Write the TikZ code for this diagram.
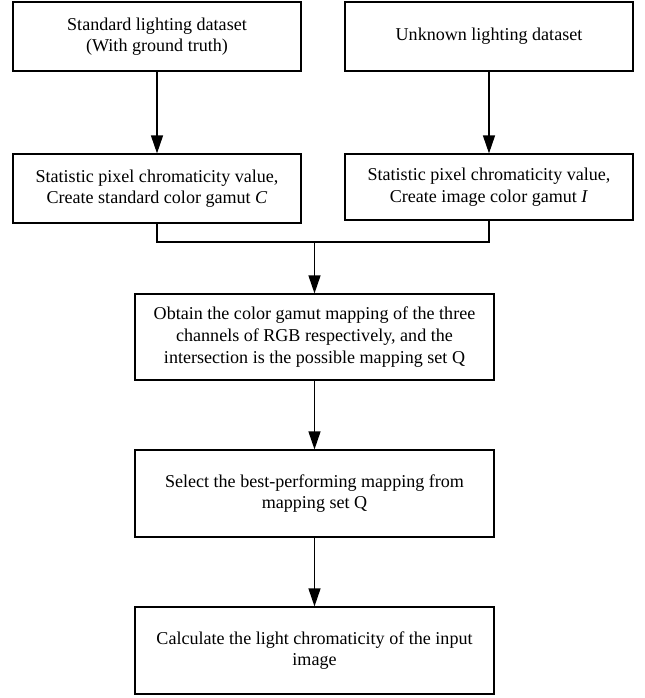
\documentclass[tikz,border=0pt]{standalone}
\usepackage{fontspec}
\setmainfont{Liberation Serif}
\usepackage{tikz}
\usetikzlibrary{arrows.meta}

\begin{document}
\begin{tikzpicture}[font=\fontsize{12.85}{15.4}\selectfont]
            \useasboundingbox (0,0) rectangle (16.125,-17.45);

            \begin{scope}[every node/.style={draw, line width=0.85pt, align=center, inner sep=0pt, minimum width=7.2cm, minimum height=1.725cm},
                          wide/.style={minimum width=8.975cm, minimum height=2.175cm}]
                \node (0) at (3.925,-0.9125) {Standard lighting dataset\\(With ground truth)};
                \node (1) at (12.225,-0.9125) {Unknown lighting dataset};
                \node (2) at (3.925,-4.7125) {Statistic pixel chromaticity value,\\Create standard color gamut \textit{C}};
                \node [minimum height=1.65cm] (3) at (12.225,-4.675) {Statistic pixel chromaticity value,\\Create image color gamut \textit{I}};
                \node [wide, minimum height=2.15cm] (4) at (7.8625,-8.425) {Obtain the color gamut mapping of the three\\channels of RGB respectively, and the\\intersection is the possible mapping set Q};
                \node [wide] (5) at (7.8625,-12.3375) {Select the best-performing mapping from\\mapping set Q};
                \node [wide] (6) at (7.8625,-16.2625) {Calculate the light chromaticity of the input\\image};
            \end{scope}
            \coordinate (7) at (7.8625,-6.05);

            \begin{scope}[every edge/.style={draw=black, line width=0.85pt}]
                \path [-{Triangle[length=0.45cm, width=0.3cm]}] (0) edge (2);
                \path [-{Triangle[length=0.45cm, width=0.3cm]}] (1) edge (3);
                \path [-] (2.south) edge [to path={|- (\tikztotarget)}] (7);
                \path [-] (3.south) edge [to path={|- (\tikztotarget)}] (7);
                \path [-{Triangle[length=0.45cm, width=0.3cm]}] (7) edge (4);
                \path [-{Triangle[length=0.45cm, width=0.3cm]}] (4) edge (5);
                \path [-{Triangle[length=0.45cm, width=0.3cm]}] (5) edge (6);
            \end{scope}
        \end{tikzpicture}
\end{document}
